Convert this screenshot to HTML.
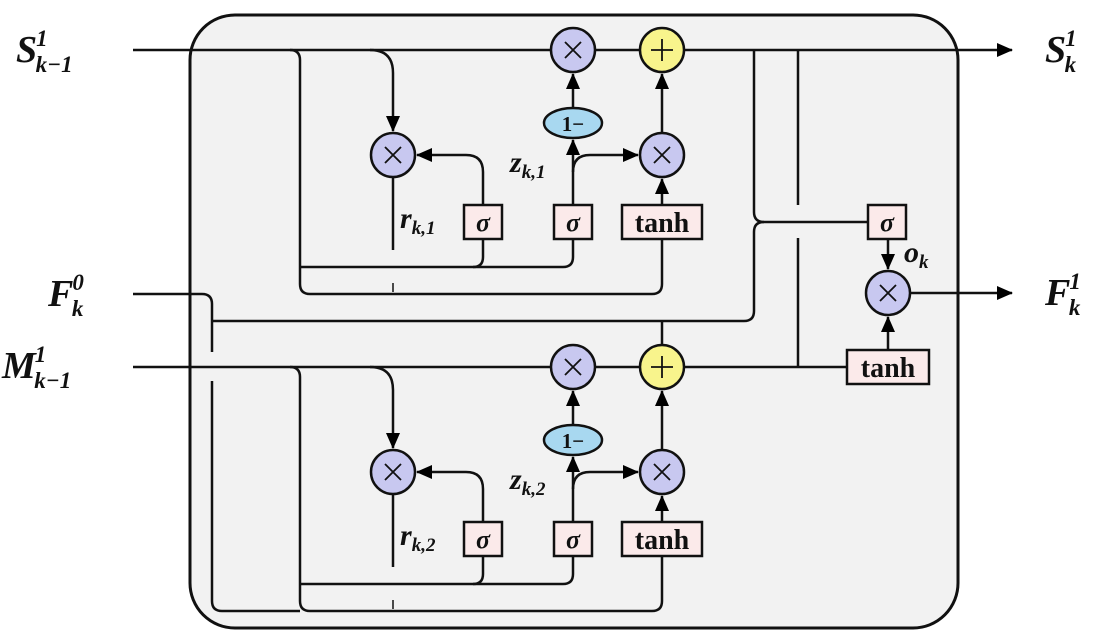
<!DOCTYPE html>
<html><head><meta charset="utf-8"><style>
html,body{margin:0;padding:0;background:#fff}
svg{display:block}
text{font-family:"Liberation Serif",serif;font-weight:bold;font-style:italic;fill:#111}
.n{font-style:normal}
</style></head><body>
<svg width="1107" height="636" viewBox="0 0 1107 636" xmlns="http://www.w3.org/2000/svg">
<defs>
<marker id="a" markerWidth="16" markerHeight="14" refX="15" refY="7" orient="auto" markerUnits="userSpaceOnUse">
<path d="M0,0 L16,7 L0,14 Z" fill="#000"/></marker>
<g id="cell" fill="none" stroke="#111" stroke-width="2.5">
<path d="M290,50 Q300,50 300,60 L300,284 Q300,294 310,294 L652,294 Q662,294 662,284 L662,239"/>
<path d="M300,267 L563,267 Q573,267 573,257 L573,239"/>
<path d="M473,267 Q483,267 483,257 L483,239"/>
<path d="M370,50 Q393,50 393,73 L393,131" marker-end="url(#a)"/>
<path d="M393,177 L393,250"/>
<path d="M393,283 L393,292" stroke-width="1.5"/>
<path d="M483,205 L483,172 Q483,155 466,155 L417,155" marker-end="url(#a)"/>
<path d="M573,205 L573,140" marker-end="url(#a)"/>
<path d="M573,172 Q573,155 590,155 L638,155" marker-end="url(#a)"/>
<path d="M573,108 L573,74" marker-end="url(#a)"/>
<path d="M662,205 L662,179" marker-end="url(#a)"/>
<path d="M662,133 L662,74" marker-end="url(#a)"/>
<g fill="#c8c8f0"><circle cx="393" cy="155" r="22"/><circle cx="662" cy="155" r="22"/><circle cx="573" cy="50" r="22"/></g>
<circle cx="662" cy="50" r="22" fill="#f8f48c"/>
<ellipse cx="573" cy="123" rx="29" ry="15" fill="#a8d8f0"/>
<g fill="#fbeaea"><rect x="464" y="205" width="38" height="34"/><rect x="554" y="205" width="38" height="34"/><rect x="622" y="205" width="80" height="34"/></g>
<path d="M385,147 L401,163 M401,147 L385,163 M654,147 L670,163 M670,147 L654,163 M565,42 L581,58 M581,42 L565,58 M662,39 L662,61 M651,50 L673,50" stroke-width="1.8"/>
</g>
</defs>
<rect x="190" y="15" width="768" height="613" rx="45" fill="#f2f2f2" stroke="#111" stroke-width="3"/>
<g fill="none" stroke="#111" stroke-width="2.5">
<path d="M133,50 L1012,50" marker-end="url(#a)"/>
<path d="M133,367 L846,367"/>
<path d="M133,294 L202,294 Q212,294 212,304 L212,352 M212,381 L212,601 Q212,611 222,611 L300,611"/>
<path d="M212,321 L744,321 Q754,321 754,311 L754,232 Q754,222 764,222 L868,222"/>
<path d="M754,50 L754,212 Q754,222 764,222"/>
<path d="M662,321 L662,345"/>
<path d="M798,50 L798,205 M798,238 L798,367"/>
<path d="M888,239 L888,269" marker-end="url(#a)"/>
<path d="M888,350 L888,317" marker-end="url(#a)"/>
<path d="M910,293 L1012,293" marker-end="url(#a)"/>
</g>
<use href="#cell"/>
<use href="#cell" transform="translate(0,317)"/>
<g stroke="#111" stroke-width="2.5">
<circle cx="888" cy="293" r="22" fill="#c8c8f0"/>
<path d="M880,285 L896,301 M896,285 L880,301" stroke-width="1.8"/>
<rect x="868" y="205" width="38" height="34" fill="#fbeaea"/>
<rect x="847" y="350" width="82" height="34" fill="#fbeaea"/>
</g>
<g font-size="26" text-anchor="middle">
<text x="573" y="131" class="n" font-size="21">1−</text>
<text x="573" y="448" class="n" font-size="21">1−</text>
<text x="483" y="231">σ</text><text x="573" y="231">σ</text>
<text x="483" y="548">σ</text><text x="573" y="548">σ</text>
<text x="887" y="231">σ</text>
<text x="662" y="232" class="n" font-size="28">tanh</text>
<text x="662" y="549" class="n" font-size="28">tanh</text>
<text x="888" y="377" class="n" font-size="28">tanh</text>
</g>
<g font-size="30">
<text x="400" y="228">r<tspan font-size="19" dy="6">k,1</tspan></text>
<text x="400" y="545">r<tspan font-size="19" dy="6">k,2</tspan></text>
<text x="510" y="172">z<tspan font-size="19" dy="6">k,1</tspan></text>
<text x="510" y="489">z<tspan font-size="19" dy="6">k,2</tspan></text>
<text x="904" y="262">o<tspan font-size="19" dy="6">k</tspan></text>
</g>
<g font-size="38">
<text x="16" y="62">S<tspan font-size="23" dy="-16" dx="-1">1</tspan><tspan font-size="23" dy="26" dx="-12">k−1</tspan></text>
<text x="48" y="306">F<tspan font-size="23" dy="-16" dx="-1">0</tspan><tspan font-size="23" dy="26" dx="-12">k</tspan></text>
<text x="2" y="378">M<tspan font-size="23" dy="-16" dx="-1">1</tspan><tspan font-size="23" dy="26" dx="-12">k−1</tspan></text>
<text x="1045" y="62">S<tspan font-size="23" dy="-16" dx="-1">1</tspan><tspan font-size="23" dy="26" dx="-12">k</tspan></text>
<text x="1045" y="305">F<tspan font-size="23" dy="-16" dx="-1">1</tspan><tspan font-size="23" dy="26" dx="-12">k</tspan></text>
</g>
</svg>
</body></html>
